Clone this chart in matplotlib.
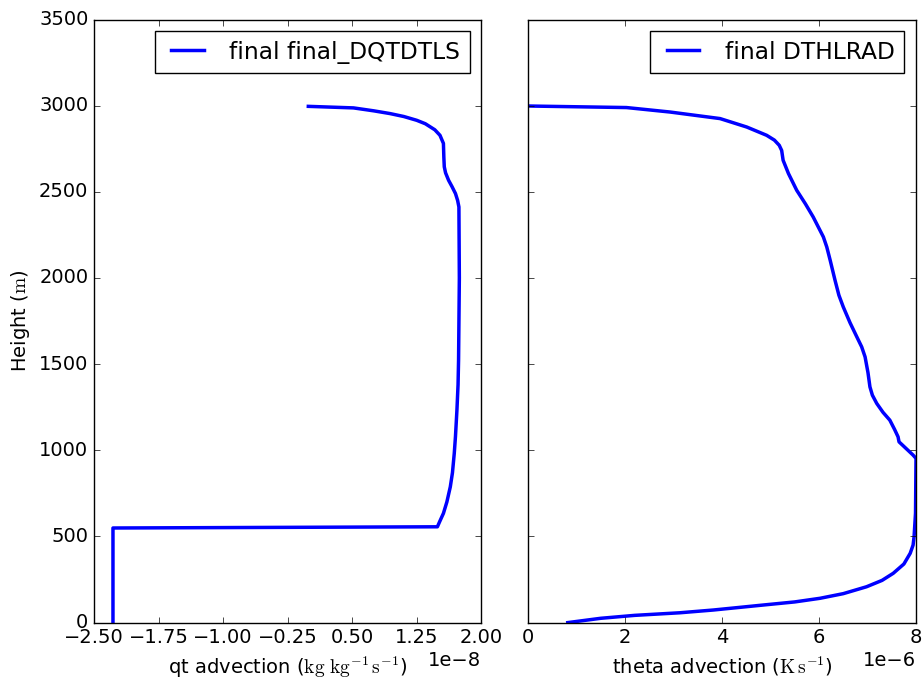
import matplotlib
matplotlib.use('Agg')
import matplotlib.pyplot as plt

# qt advection profile (1e-8 kg/kg/s) vs height (m)
qt_height = [0, 549, 556, 590, 634, 700, 788, 870, 982, 1080, 1233, 1380,
             1523, 2000, 2412, 2450, 2490, 2530, 2567, 2610, 2645, 2700,
             2781, 2828, 2860, 2895, 2915, 2937, 2954, 2970, 2987, 2996]
qt_adv = [-2.28, -2.28, 1.49, 1.52, 1.56, 1.60, 1.64, 1.665, 1.686, 1.70,
          1.717, 1.73, 1.736, 1.745, 1.74, 1.725, 1.70, 1.66, 1.62, 1.585,
          1.57, 1.565, 1.56, 1.52, 1.46, 1.35, 1.25, 1.10, 0.94, 0.75,
          0.515, -0.01]

# theta advection profile (1e-6 K/s) vs height (m)
th_height = [0, 25, 42, 57, 73, 102, 120, 141, 168, 208, 245, 286, 340, 402,
             450, 498, 635, 953, 972, 1049, 1078, 1120, 1175, 1220, 1272,
             1320, 1368, 1450, 1542, 1600, 1658, 1740, 1832, 1900, 1987,
             2045, 2103, 2180, 2238, 2354, 2430, 2509, 2606, 2683, 2740,
             2770, 2800, 2828, 2876, 2925, 2963, 2989, 2998]
th_adv = [0.82, 1.5, 2.2, 3.13, 3.82, 4.85, 5.5, 6.02, 6.5, 6.98, 7.3, 7.53,
          7.75, 7.88, 7.94, 7.96, 7.99, 8.0, 7.94, 7.65, 7.63, 7.56, 7.46,
          7.32, 7.19, 7.10, 7.05, 7.01, 6.95, 6.88, 6.78, 6.64, 6.50, 6.41,
          6.33, 6.28, 6.23, 6.16, 6.09, 5.88, 5.72, 5.54, 5.37, 5.26, 5.23,
          5.18, 5.08, 4.92, 4.51, 3.96, 2.93, 2.03, 0.0]

qt_ticks = [-2.5, -1.75, -1.0, -0.25, 0.5, 1.25, 2.0]
th_ticks = [0, 2, 4, 6, 8]
height_ticks = [0, 500, 1000, 1500, 2000, 2500, 3000, 3500]


def main() -> None:
    plt.style.use('classic')
    plt.rcParams['font.size'] = 14
    fig = plt.figure(figsize=(9.22, 6.82), dpi=100, facecolor='white')
    ax1 = fig.add_axes([0.102, 0.0871, 0.42, 0.8843])
    ax2 = fig.add_axes([0.5727, 0.0871, 0.4208, 0.8843], sharey=ax1)

    ax1.plot([v * 1e-8 for v in qt_adv], qt_height, color='b', lw=2.5,
             solid_joinstyle='round', label='final final_DQTDTLS')
    ax1.set_xlim(-2.5e-8, 2.0e-8)
    ax1.set_xticks([t * 1e-8 for t in qt_ticks])
    ax1.ticklabel_format(axis='x', style='sci', scilimits=(-3, 3))
    ax1.set_ylim(0, 3500)
    ax1.set_yticks(height_ticks)
    ax1.set_xlabel(r'qt advection ($\mathrm{kg\ kg^{-1}\,s^{-1}}$)')
    ax1.set_ylabel(r'Height ($\mathrm{m}$)')
    ax1.legend(loc='upper right')

    ax2.plot([v * 1e-6 for v in th_adv], th_height, color='b', lw=2.5,
             solid_joinstyle='round', label='final DTHLRAD')
    ax2.set_xlim(0, 8e-6)
    ax2.set_xticks([t * 1e-6 for t in th_ticks])
    ax2.ticklabel_format(axis='x', style='sci', scilimits=(-3, 3))
    ax2.set_xlabel(r'theta advection ($\mathrm{K\,s^{-1}}$)')
    plt.setp(ax2.get_yticklabels(), visible=False)
    ax2.legend(loc='upper right')

    fig.savefig('out.png', dpi=100, facecolor='white')


if __name__ == "__main__":
    main()
